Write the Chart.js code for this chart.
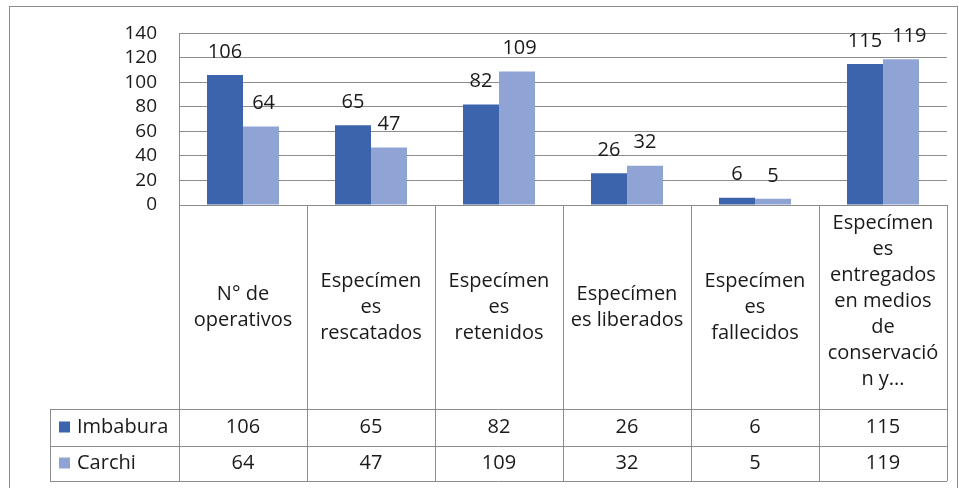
<!DOCTYPE html>
<html>
<head>
<meta charset="utf-8">
<script src="https://cdn.jsdelivr.net/npm/chart.js@4"></script>
<style>
  html, body { margin: 0; padding: 0; background: #fff; }
  #wrap { width: 959px; height: 488px; position: relative; }
</style>
</head>
<body>
<div id="wrap"><canvas id="chart" width="959" height="488"></canvas></div>
<script>
// chart data
const categories = [
    ['N° de', 'operativos'],
    ['Especímen', 'es', 'rescatados'],
    ['Especímen', 'es', 'retenidos'],
    ['Especímen', 'es liberados'],
    ['Especímen', 'es', 'fallecidos'],
    ['Especímen', 'es', 'entregados', 'en medios', 'de', 'conservació', 'n y...']
];
const seriesNames = ['Imbabura', 'Carchi'];
const imbabura = [106, 65, 82, 26, 6, 115];
const carchi = [64, 47, 109, 32, 5, 119];
const yTicks = [0, 20, 40, 60, 80, 100, 120, 140];

const colors = ['#3c64ac', '#8fa4d4'];
const lineColor = '#8c8c8c';
const textColor = '#1a1a1a';
const fontFamily = '"Open Sans", Lato, sans-serif';
const font = '20px ' + fontFamily;

// labels above each bar, nudged right when they would collide
const barLabels = {
    id: 'barLabels',
    afterDatasetsDraw(chart) {
        const ctx = chart.ctx;
        ctx.save();
        ctx.font = font;
        ctx.fillStyle = textColor;
        ctx.textAlign = 'center';
        ctx.textBaseline = 'middle';
        const first = chart.getDatasetMeta(0).data;
        chart.data.datasets.forEach((ds, i) => {
            chart.getDatasetMeta(i).data.forEach((bar, j) => {
                const txt = String(ds.data[j]);
                let lx = bar.x;
                if (i === 1) {
                    const prevTxt = String(chart.data.datasets[0].data[j]);
                    const prevRight = first[j].x + ctx.measureText(prevTxt).width / 2;
                    const left = lx - ctx.measureText(txt).width / 2;
                    if (left < prevRight + 10) lx += prevRight + 10 - left;
                }
                ctx.fillText(txt, lx, bar.y - 23);
            });
        });
        ctx.restore();
    }
};

// data table under the plot
const dataTable = {
    id: 'dataTable',
    afterDraw(chart) {
        const ctx = chart.ctx;
        const area = chart.chartArea;
        const x = chart.scales.x;
        const n = categories.length;
        const colW = (area.right - area.left) / n;
        const legendLeft = 50;
        const row1 = 409, row2 = 446, row3 = 481;

        ctx.save();
        ctx.strokeStyle = lineColor;
        ctx.lineWidth = 1;

        // outer frame
        ctx.strokeRect(9.5, 6.5, 948, 490);

        ctx.beginPath();
        // axis line and row lines
        ctx.moveTo(area.left, area.bottom + 0.5); ctx.lineTo(area.right, area.bottom + 0.5);
        [row1, row2, row3].forEach(y => {
            ctx.moveTo(legendLeft, y + 0.5); ctx.lineTo(area.right, y + 0.5);
        });
        // column lines
        for (let i = 0; i <= n; i++) {
            const cx = Math.round(area.left + i * colW) + 0.5;
            ctx.moveTo(cx, area.bottom); ctx.lineTo(cx, row3);
        }
        ctx.moveTo(legendLeft + 0.5, row1); ctx.lineTo(legendLeft + 0.5, row3);
        // vertical axis line
        ctx.moveTo(area.left + 0.5, area.top); ctx.lineTo(area.left + 0.5, area.bottom);
        ctx.stroke();

        ctx.font = font;
        ctx.fillStyle = textColor;
        ctx.textAlign = 'center';
        ctx.textBaseline = 'middle';

        // category labels
        const lh = 26;
        categories.forEach((lines, i) => {
            const cx = x.getPixelForValue(i);
            const mid = (area.bottom + row1) / 2;
            const start = Math.max(222, mid - (lines.length - 1) * lh / 2) - (lines.length > 6 ? 6 : 0);
            lines.forEach((t, k) => ctx.fillText(t, cx, start + k * lh));
        });

        // series rows
        const rows = [[imbabura, row1, row2], [carchi, row2, row3]];
        rows.forEach(([vals, top, bot], r) => {
            const cy = (top + bot) / 2;
            ctx.fillStyle = colors[r];
            ctx.fillRect(59, cy - 6, 11, 11);
            ctx.fillStyle = textColor;
            ctx.textAlign = 'left';
            ctx.fillText(seriesNames[r], 77, cy);
            ctx.textAlign = 'center';
            vals.forEach((v, i) => ctx.fillText(v, x.getPixelForValue(i), cy));
        });
        ctx.restore();
    }
};

new Chart(document.getElementById('chart'), {
    type: 'bar',
    data: {
        labels: categories.map(c => c.join(' ')),
        datasets: [
            { label: seriesNames[0], data: imbabura, backgroundColor: colors[0] },
            { label: seriesNames[1], data: carchi, backgroundColor: colors[1] }
        ]
    },
    options: {
        responsive: false,
        animation: false,
        layout: { padding: { left: 0, top: 31, right: 12, bottom: 283 } },
        plugins: { legend: { display: false }, tooltip: { enabled: false } },
        datasets: { bar: { categoryPercentage: 0.5625, barPercentage: 1 } },
        scales: {
            x: { display: false },
            y: {
                min: 0, max: 140,
                afterFit(s) { s.width = 179; },
                afterBuildTicks(s) { s.ticks = yTicks.map(v => ({ value: v })); },
                border: { display: false },
                grid: { color: lineColor, drawTicks: false },
                ticks: {
                    autoSkip: false,
                    padding: 22,
                    color: textColor,
                    font: { family: fontFamily, size: 19 }
                }
            }
        }
    },
    plugins: [barLabels, dataTable]
});
</script>
</body>
</html>
